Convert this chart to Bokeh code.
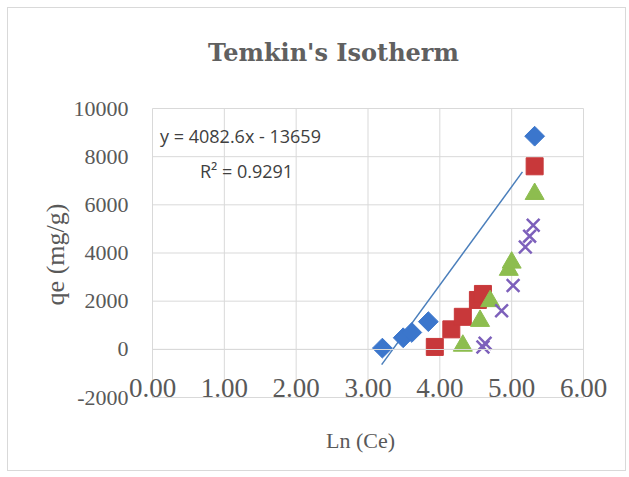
import numpy as np
from bokeh.plotting import figure
from bokeh.models import Range1d, FixedTicker, Label, CustomJSTickFormatter
from bokeh.embed import file_html
from bokeh.resources import INLINE

# ---- data ----
blue_x = [3.20, 3.49, 3.61, 3.84, 5.32]
blue_y = [50, 480, 700, 1150, 8850]

red_x = [3.93, 4.16, 4.32, 4.53, 4.60, 5.32]
red_y = [100, 830, 1350, 2050, 2300, 7600]

green_x = [4.32, 4.56, 4.70, 4.96, 5.00, 5.32]
green_y = [150, 1180, 2000, 3300, 3600, 6450]

purple_x = [4.60, 4.63, 4.86, 5.02, 5.19, 5.25, 5.30]
purple_y = [100, 250, 1600, 2650, 4250, 4700, 5150]

trend_slope = 4082.6
trend_intercept = -13659
trend_x = [3.19, 5.15]

x_ticks = [0, 1, 2, 3, 4, 5, 6]
y_ticks = [-2000, 0, 2000, 4000, 6000, 8000, 10000]

title_text = "Temkin's Isotherm"
x_title = "Ln (Ce)"
y_title = "qe (mg/g)"
eq_text = "y = 4082.6x - 13659"
r2_text = "R\u00b2 = 0.9291"

# ---- layout (page pixels) ----
CW, CH = 619, 464            # canvas inside the chart border
C0X, C0Y = 8, 8              # canvas origin on the page
PL, PR, PT, PB = 152, 583, 108, 397   # plot area in page pixels

xmin, xmax = x_ticks[0], x_ticks[-1]
ymin, ymax = y_ticks[0], y_ticks[-1]
kx = (PR - PL) / (xmax - xmin)
ky = (PB - PT) / (ymax - ymin)
x_range = Range1d(xmin - (PL - C0X) / kx, xmax + (C0X + CW - PR) / kx)
y_range = Range1d(ymin - (C0Y + CH - PB) / ky, ymax + (PT - C0Y) / ky)

txt_col = "#595959"
grid_col = "#d9d9d9"

p = figure(width=CW, height=CH, output_backend="svg", toolbar_location=None,
           x_range=x_range, y_range=y_range,
           min_border=0, margin=(7, 0, 0, 7),
           styles={"border": "1px solid #d9d9d9"})
p.outline_line_color = None
p.background_fill_color = "white"
p.border_fill_color = "white"
p.grid.visible = False


def sx(px):
    return px - C0X


def sy(py):
    return C0Y + CH - py


# gridlines (plot area only)
p.segment(x0=x_ticks, x1=x_ticks, y0=[ymin] * len(x_ticks), y1=[ymax] * len(x_ticks),
          line_color=grid_col, line_width=1)
p.segment(x0=[xmin] * len(y_ticks), x1=[xmax] * len(y_ticks), y0=y_ticks, y1=y_ticks,
          line_color=grid_col, line_width=1)

# x axis crossing at y = 0
xa = p.xaxis[0]
xa.ticker = FixedTicker(ticks=x_ticks)
xa.fixed_location = 0
xa.bounds = (xmin, xmax)
xa.formatter = CustomJSTickFormatter(code="return tick.toFixed(2)")
xa.axis_line_color = grid_col
xa.major_tick_line_color = None
xa.minor_tick_line_color = None
xa.major_tick_out = 0
xa.major_tick_in = 0
xa.major_label_text_font = "Liberation Serif"
xa.major_label_text_font_size = "27px"
xa.major_label_text_color = txt_col
xa.major_label_standoff = 30

# y axis at x = 0
ya = p.yaxis[0]
ya.ticker = FixedTicker(ticks=y_ticks)
ya.fixed_location = 0
ya.bounds = (ymin, ymax)
ya.formatter = CustomJSTickFormatter(code="return tick.toString()")
ya.axis_line_color = None
ya.major_tick_line_color = None
ya.minor_tick_line_color = None
ya.major_tick_out = 0
ya.major_tick_in = 0
ya.major_label_text_font = "Liberation Serif"
ya.major_label_text_font_size = "22px"
ya.major_label_text_color = txt_col
ya.major_label_standoff = 24

# trendline
tx = np.array(trend_x)
p.line(tx, trend_slope * tx + trend_intercept, line_color="#4a7ebb", line_width=1.5)

# series
p.scatter(blue_x, blue_y, marker="square", angle=np.pi / 4, size=14,
          fill_color="#3b76cc", line_color="#3b76cc")
p.scatter(red_x, red_y, marker="square", size=17,
          fill_color="#c8383a", line_color="#c8383a")
p.scatter(green_x, green_y, marker="triangle", size=19,
          fill_color="#8dbd4f", line_color="#8dbd4f")
p.scatter(purple_x, purple_y, marker="x", size=18, line_width=2.5,
          line_color="#7d60bb")

# texts
p.add_layout(Label(x=sx(333), y=sy(52), x_units="screen", y_units="screen",
                   text=title_text, text_font="DejaVu Serif", text_font_style="bold",
                   text_font_size="24px", text_color="#606060",
                   text_align="center", text_baseline="middle"))
p.add_layout(Label(x=sx(360), y=sy(440), x_units="screen", y_units="screen",
                   text=x_title, text_font="Liberation Serif",
                   text_font_size="22px", text_color=txt_col,
                   text_align="center", text_baseline="middle"))
p.add_layout(Label(x=sx(55), y=sy(254), x_units="screen", y_units="screen",
                   text=y_title, text_font="Liberation Serif", angle=np.pi / 2,
                   text_font_size="26px", text_color=txt_col,
                   text_align="center", text_baseline="middle"))
p.add_layout(Label(x=sx(240), y=sy(135), x_units="screen", y_units="screen",
                   text=eq_text, text_font="Open Sans",
                   text_font_size="18px", text_color="#404040",
                   text_align="center", text_baseline="middle"))
p.add_layout(Label(x=sx(246), y=sy(170), x_units="screen", y_units="screen",
                   text=r2_text, text_font="Open Sans",
                   text_font_size="18px", text_color="#404040",
                   text_align="center", text_baseline="middle"))

open("out.html", "w").write(file_html(p, INLINE))
